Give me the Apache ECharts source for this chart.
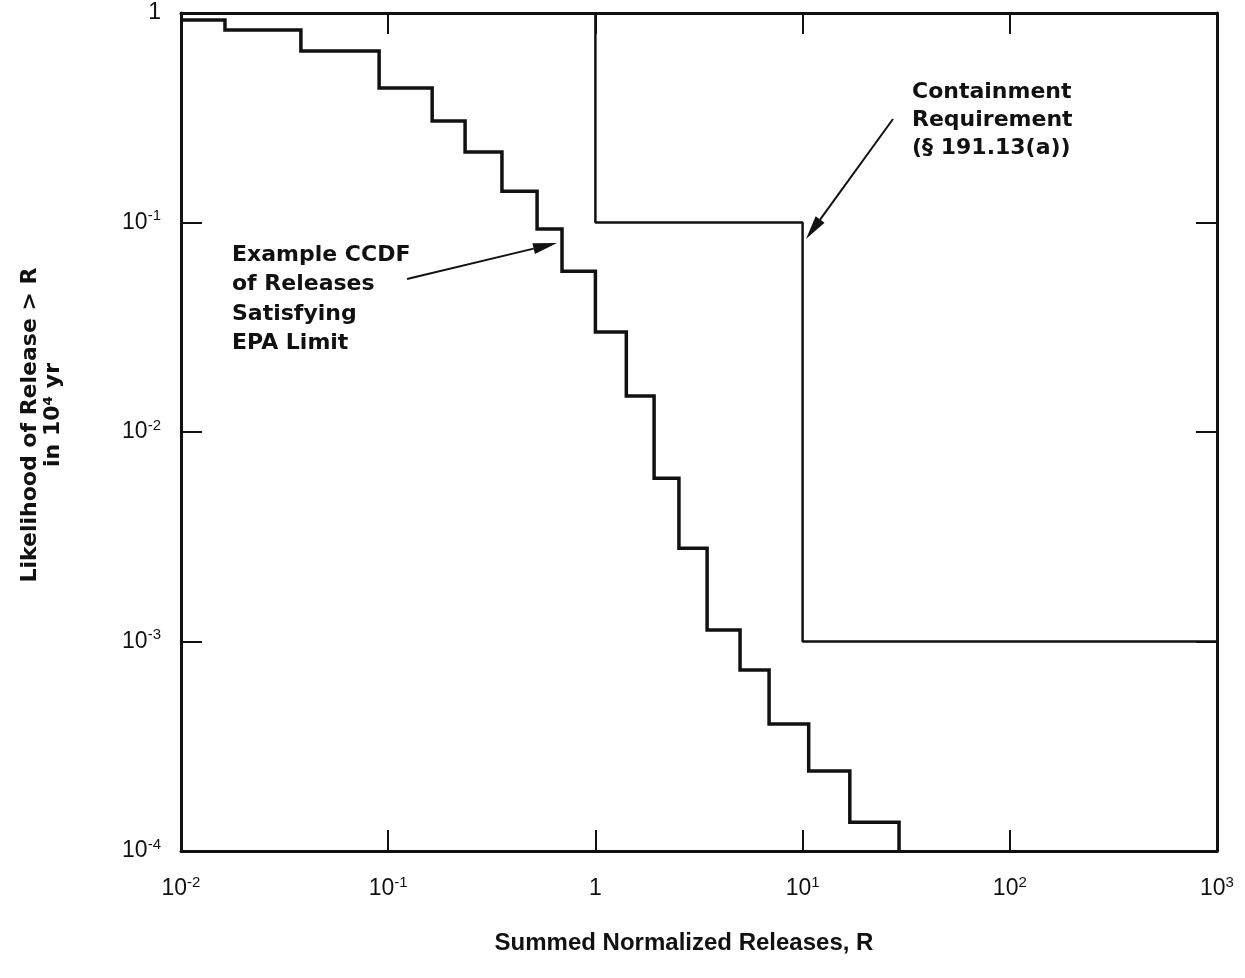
<!DOCTYPE html>
<html>
<head>
<meta charset="utf-8">
<script src="https://cdn.jsdelivr.net/npm/echarts@6/dist/echarts.min.js"></script>
<style>
  html, body { margin: 0; padding: 0; background: #fff; }
  #chart { width: 1245px; height: 978px; }
</style>
</head>
<body>
<div id="chart"></div>
<script>
// Example CCDF: release value at which each step drops, and the level held before it
const ccdfBreaks = [0.0163, 0.0379, 0.0904, 0.163, 0.235, 0.354, 0.523, 0.690, 1.0,
                    1.41, 1.92, 2.53, 3.46, 4.99, 6.89, 10.7, 16.9, 29.2];
const ccdfLevels = [0.927, 0.83, 0.659, 0.438, 0.305, 0.217, 0.141, 0.093, 0.0586,
                    0.030, 0.01486, 0.00602, 0.00279, 0.001135, 0.000731, 0.000404,
                    0.000241, 0.000137, 0.0001];

// EPA containment requirement (§ 191.13(a)): release values where the limit drops,
// and the likelihood limit on each interval
const limitBreaks = [1, 10];
const limitLevels = [1, 0.1, 0.001];

// Axis range, in decades
const xRange = [0.01, 1000];
const yRange = [0.0001, 1];

// Step outline: horizontal run at each level, then a vertical drop at the break
function stepVertices(breaks, levels, xStart, xEnd) {
  const pts = [[xStart, levels[0]]];
  for (let i = 0; i < breaks.length; i++) {
    pts.push([breaks[i], levels[i]]);
    pts.push([breaks[i], levels[i + 1]]);
  }
  if (xEnd !== undefined) pts.push([xEnd, levels[levels.length - 1]]);
  return pts;
}

function powerLabel(v) {
  const e = Math.round(Math.log10(v));
  if (e === 0) return '{b|1}';
  return '{b|10}{s|' + e + '}';
}

const labelRich = {
  b: { fontFamily: 'Liberation Sans', fontSize: 23, color: '#111', lineHeight: 28 },
  s: { fontFamily: 'Liberation Sans', fontSize: 15, color: '#111', lineHeight: 16, verticalAlign: 'top' }
};

const frameLine = { show: true, onZero: false, lineStyle: { color: '#111', width: 3 } };
const innerTick = { show: true, inside: true, length: 21, lineStyle: { color: '#111', width: 2 } };

function makeAxis(position, range, showLabels, margin) {
  return {
    type: 'log',
    logBase: 10,
    min: range[0],
    max: range[1],
    position: position,
    axisLine: frameLine,
    axisTick: innerTick,
    minorTick: { show: false },
    splitLine: { show: false },
    axisLabel: {
      show: showLabels,
      margin: margin,
      fontSize: 23,
      fontFamily: 'Liberation Sans',
      formatter: powerLabel,
      rich: labelRich
    }
  };
}

const boldFont = 'bold 22px "DejaVu Sans"';

function textLine(str, x, y, font) {
  return {
    type: 'text', x: x, y: y, silent: true,
    style: { text: str, font: font || boldFont, fill: '#111', textAlign: 'left', textVerticalAlign: 'middle' }
  };
}

function arrow(x1, y1, x2, y2) {
  const dx = x2 - x1, dy = y2 - y1;
  const len = Math.sqrt(dx * dx + dy * dy);
  const ux = dx / len, uy = dy / len;
  const headLen = 24, headHalf = 5.5;
  const bx = x2 - ux * headLen, by = y2 - uy * headLen;
  return [
    { type: 'line', silent: true,
      shape: { x1: x1, y1: y1, x2: bx, y2: by },
      style: { stroke: '#111', lineWidth: 2 } },
    { type: 'polygon', silent: true,
      shape: { points: [[x2, y2], [bx - uy * headHalf, by + ux * headHalf], [bx + uy * headHalf, by - ux * headHalf]] },
      style: { fill: '#111' } }
  ];
}

const chart = echarts.init(document.getElementById('chart'), null, { renderer: 'canvas' });

chart.setOption({
  backgroundColor: '#fff',
  animation: false,
  grid: { left: 181, right: 28, top: 13, bottom: 127, containLabel: false },
  xAxis: [makeAxis('bottom', xRange, true, 24), makeAxis('top', xRange, false, 8)],
  yAxis: [makeAxis('left', yRange, true, 20), makeAxis('right', yRange, false, 8)],
  series: [
    {
      name: 'Example CCDF',
      type: 'line',
      data: stepVertices(ccdfBreaks, ccdfLevels, xRange[0]),
      symbol: 'none',
      lineStyle: { color: '#111', width: 3.5, join: 'miter' },
      clip: true,
      z: 3
    },
    {
      name: 'Containment Requirement',
      type: 'line',
      data: stepVertices(limitBreaks, limitLevels, limitBreaks[0], xRange[1]).slice(1),
      symbol: 'none',
      lineStyle: { color: '#111', width: 2.5 },
      clip: true,
      z: 2
    }
  ],
  graphic: [
    // axis titles
    {
      type: 'text', x: 30, y: 425, rotation: Math.PI / 2, silent: true,
      style: { text: 'Likelihood of Release > R', font: boldFont, fill: '#111', textAlign: 'center', textVerticalAlign: 'middle' }
    },
    {
      type: 'text', x: 53, y: 415, rotation: Math.PI / 2, silent: true,
      style: { text: 'in 10\u2074 yr', font: boldFont, fill: '#111', textAlign: 'center', textVerticalAlign: 'middle' }
    },
    {
      type: 'text', x: 684, y: 943, silent: true,
      style: { text: 'Summed Normalized Releases, R', font: 'bold 24px "Liberation Sans"', fill: '#111', textAlign: 'center', textVerticalAlign: 'middle' }
    },
    // annotations
    textLine('Example CCDF', 232, 255),
    textLine('of Releases', 232, 284.5),
    textLine('Satisfying', 232, 314),
    textLine('EPA Limit', 232, 343.5),
    textLine('Containment', 912, 92),
    textLine('Requirement', 912, 120),
    textLine('(\u00a7 191.13(a))', 912, 148),
    ...arrow(407, 279, 557, 243),
    ...arrow(893, 119, 806, 239)
  ]
});
</script>
</body>
</html>
